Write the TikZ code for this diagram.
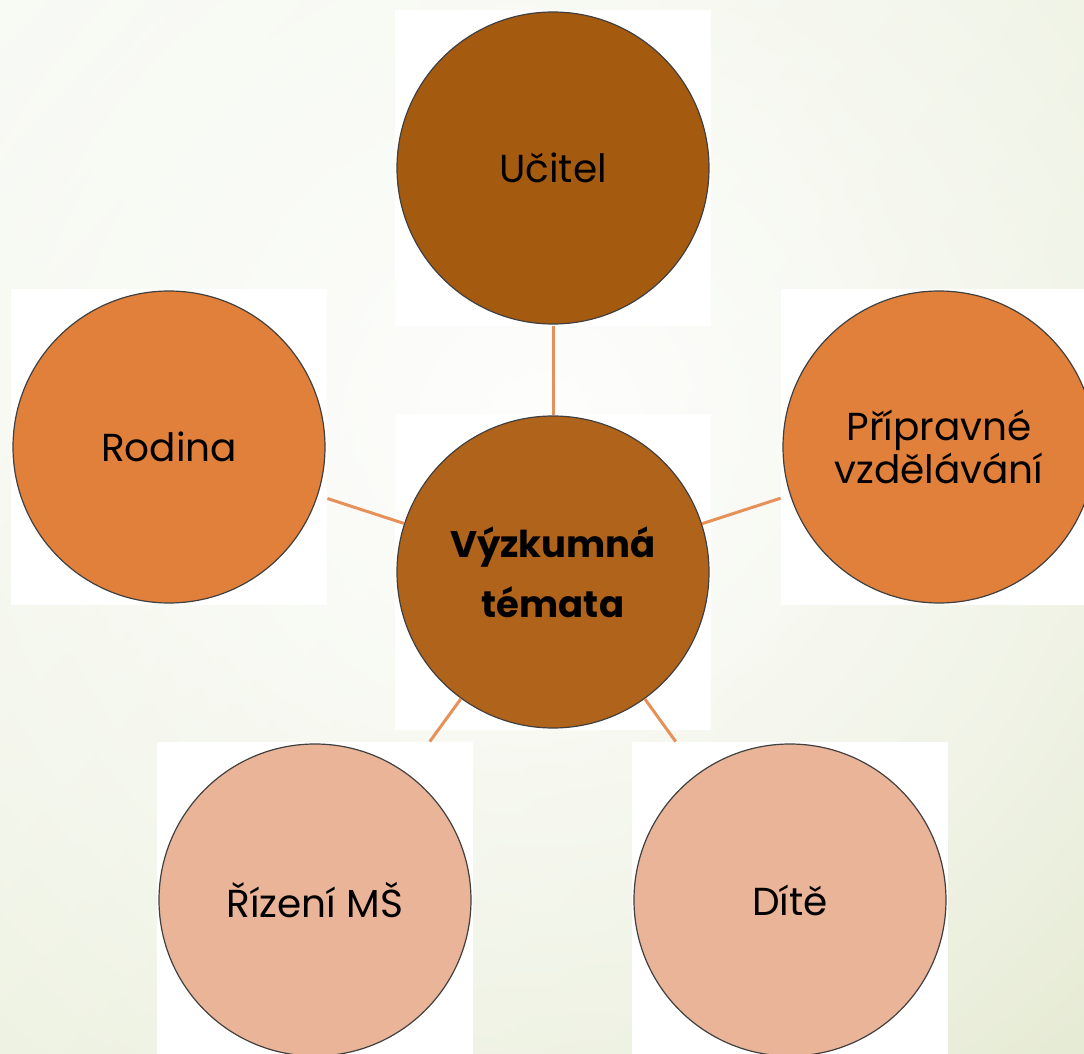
\documentclass[tikz,border=0pt]{standalone}
\usepackage{fontspec}
\setmainfont{Poppins}
\usetikzlibrary{positioning,shadings,fadings}

\definecolor{umber}{HTML}{A45A0F}
\definecolor{rust}{HTML}{B0631A}
\definecolor{amber}{HTML}{E0803A}
\definecolor{peach}{HTML}{E9B498}
\definecolor{wire}{HTML}{E6915A}
\definecolor{paleA}{HTML}{F5F8F0}
\definecolor{paleB}{HTML}{EAEFDC}
\definecolor{paleC}{HTML}{EBF0DD}
\definecolor{paleD}{HTML}{E1E7CC}

\tikzfading[name=glow,inner color=transparent!0,outer color=transparent!100]

\begin{document}
\begin{tikzpicture}[x=0.5pt,y=-0.5pt,
    tile/.style={rectangle,fill=white,inner sep=0pt,minimum size=158pt},
    topic/.style={tile,font=\fontsize{19.5}{18}\selectfont,align=center,
        path picture={\draw[black!75,line width=0.6pt,fill=#1] (path picture bounding box.center) circle[radius=78pt];}},
    hub/.style={circle,draw=black!75,line width=0.6pt,fill=rust,inner sep=0pt,minimum size=156pt,
        font=\fontsize{18.5}{30}\selectfont\bfseries,align=center},
    link/.style={color=wire,line width=1.5pt}]
    \useasboundingbox (0,0) rectangle (1084,1054);
    \clip (0,0) rectangle (1084,1054);
    % backdrop
    \shade[upper left=paleA,upper right=paleB,lower left=paleC,lower right=paleD] (0,0) rectangle (1084,1054);
    \fill[white,path fading=glow,fill opacity=0.95] (540,430) circle[radius=1000];

    \node[tile] (0) at (553,572) {};
    \node[hub] (1) at (553,572) {Výzkumná\\témata};

    \node[topic=umber] (2) at (553,168) {Učitel};
    \node[topic=amber] (3) at (169,447) {Rodina};
    \node[topic=amber] (4) at (939,447) {Přípravné\\vzdělávání};
    \node[topic=peach] (5) at (315,900) {Řízení MŠ};
    \node[topic=peach] (6) at (790,900) {Dítě};

    \path[link] (1) edge (2) edge (3) edge (4) edge (5) edge (6);
\end{tikzpicture}
\end{document}
